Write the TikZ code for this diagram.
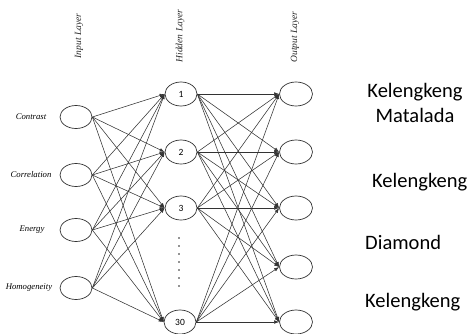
\documentclass[tikz,border=0pt]{standalone}
\usepackage{fontspec}
\setmainfont{Carlito}
\newfontfamily\serifit{Liberation Serif}
\usetikzlibrary{positioning,shapes.geometric,arrows.meta}

\begin{document}
\begin{tikzpicture}[
    x=1pt, y=1pt,
    neuron/.style={
        ellipse,
        draw=black!80,
        line width=0.7pt,
        fill=white,
        minimum width=32pt,
        minimum height=24pt,
        inner sep=0pt,
        font=\fontsize{9.5}{10}\selectfont
    },
    feature/.style={font=\serifit\itshape\fontsize{8.7}{10}\selectfont},
    layer/.style={rotate=90, text=black!85, font=\serifit\itshape\fontsize{9.5}{11}\selectfont},
    class/.style={inner sep=0pt, font=\fontsize{20.5}{25}\selectfont},
    link/.style={draw=black!80, line width=0.55pt, -{Latex[length=5pt,width=3.6pt]}}
]
    \useasboundingbox (0,0) rectangle (468,333);

    % Layer titles
    \node[layer] (tin) at (79,297) {Input Layer};
    \node[layer] (thid) at (180,297) {Hidden Layer};
    \node[layer] (tout) at (295,296) {Output Layer};

    % Input layer
    \node[neuron, minimum height=23pt] (in1) at (76,216) {};
    \node[neuron, minimum height=23pt] (in2) at (76,158) {};
    \node[neuron, minimum height=23pt] (in3) at (76,103) {};
    \node[neuron, minimum height=23pt] (in4) at (76,45) {};
    \node[feature] (f1) at (31,216) {Contrast};
    \node[feature] (f2) at (31,158) {Correlation};
    \node[feature] (f3) at (32,103) {Energy};
    \node[feature] (f4) at (29,45) {Homogeneity};

    % Hidden layer
    \node[neuron] (h1) at (181,239) {1};
    \node[neuron] (h2) at (181,181) {2};
    \node[neuron] (h3) at (181,125) {3};
    \node[neuron] (h4) at (180,11) {30};
    \draw[black!85, line width=1.6pt, line cap=round, dash pattern=on 0pt off 8pt] (179,95) -- (179,46);

    % Output layer
    \node[neuron, minimum width=33pt] (out1) at (296,239) {};
    \node[neuron, minimum width=33pt] (out2) at (296,181) {};
    \node[neuron, minimum width=33pt] (out3) at (296,125) {};
    \node[neuron, minimum width=33pt] (out4) at (296,66) {};
    \node[neuron, minimum width=33pt] (out5) at (296,11) {};

    % Classes
    \node[class, align=center] (c1) at (415,230) {Kelengkeng\\Matalada};
    \node[class, anchor=west] (c2) at (372,151) {Kelengkeng};
    \node[class, anchor=west] (c3) at (365,91) {Diamond};
    \node[class, anchor=west] (c4) at (365,31) {Kelengkeng};

    % Connections
    \foreach \i in {1,...,4}
        \foreach \j in {1,...,4}
            \draw[link] (in\i.east) -- (h\j.west);
    \foreach \j in {1,...,4}
        \foreach \k in {1,...,5}
            \draw[link] (h\j.east) -- (out\k.west);
\end{tikzpicture}
\end{document}
